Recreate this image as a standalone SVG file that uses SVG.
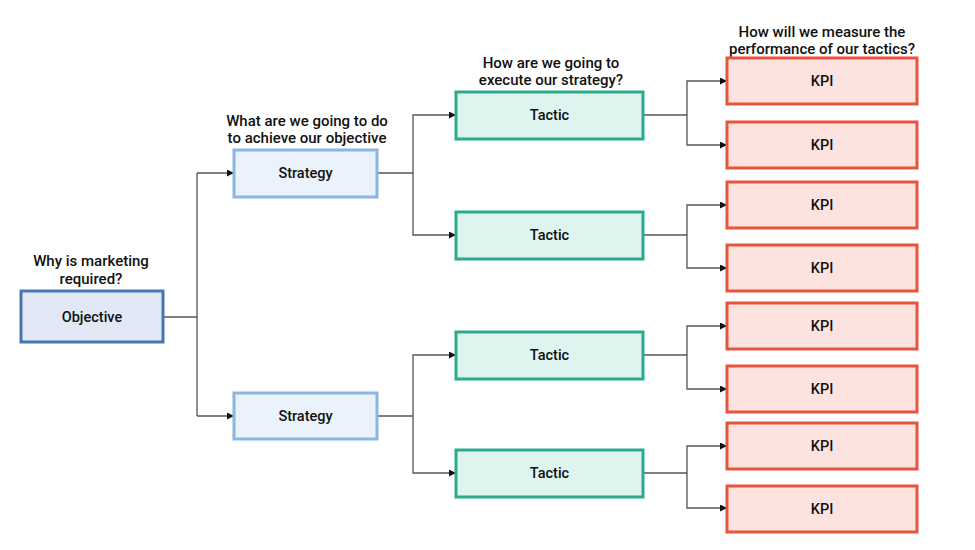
<svg xmlns="http://www.w3.org/2000/svg" width="975" height="550" viewBox="0 0 975 550">
<defs>
<marker id="arr" viewBox="0 0 10 10" refX="10" refY="5" markerWidth="7" markerHeight="7" markerUnits="userSpaceOnUse" orient="auto">
<path d="M0,0 L10,5 L0,10 z" fill="#111"/>
</marker>
<style>
text{font-family:Roboto,"Liberation Sans",Arial,sans-serif;fill:#111;text-anchor:middle}
.lbl{font-size:15px;font-weight:500}
.bt{font-size:14.5px;font-weight:500}
.obj{fill:#e2e8f6;stroke:#4a76b0;stroke-width:3}
.str{fill:#eaf2fb;stroke:#8db4e2;stroke-width:3}
.tac{fill:#def4ee;stroke:#2bab8e;stroke-width:3}
.kpi{fill:#fde3e0;stroke:#e8553d;stroke-width:3}
.c{fill:none;stroke:#555;stroke-width:1.3}
.a{fill:none;stroke:#555;stroke-width:1.3;marker-end:url(#arr)}
</style>
</defs>
<rect width="975" height="550" fill="#fff"/>
<g id="labels">
<text class="lbl" x="91" y="266">Why is marketing</text>
<text class="lbl" x="91" y="284">required?</text>
<text class="lbl" x="307" y="126">What are we going to do</text>
<text class="lbl" x="307" y="143">to achieve our objective</text>
<text class="lbl" x="551" y="68">How are we going to</text>
<text class="lbl" x="551" y="85">execute our strategy?</text>
<text class="lbl" x="822" y="37">How will we measure the</text>
<text class="lbl" x="822" y="54">performance of our tactics?</text>
</g>
<g id="connectors">
<path class="c" d="M163,317 H197 V173"/>
<path class="a" d="M197,173 H234"/>
<path class="c" d="M197,317 V416"/>
<path class="a" d="M197,416 H234"/>
<path class="c" d="M377,173 H413"/>
<path class="a" d="M413,173 V115 H456"/>
<path class="a" d="M413,173 V235 H456"/>
<path class="c" d="M377,416 H413"/>
<path class="a" d="M413,416 V355 H456"/>
<path class="a" d="M413,416 V473 H456"/>
<path class="c" d="M643,115 H687"/>
<path class="a" d="M687,115 V81 H727"/>
<path class="a" d="M687,115 V145 H727"/>
<path class="c" d="M643,235 H687"/>
<path class="a" d="M687,235 V205 H727"/>
<path class="a" d="M687,235 V268 H727"/>
<path class="c" d="M643,355 H687"/>
<path class="a" d="M687,355 V326 H727"/>
<path class="a" d="M687,355 V389 H727"/>
<path class="c" d="M643,473 H687"/>
<path class="a" d="M687,473 V446 H727"/>
<path class="a" d="M687,473 V508 H727"/>
</g>
<g id="objective"><rect class="obj" x="21" y="291" width="142" height="51"/><text class="bt" x="92" y="322">Objective</text></g>
<g id="strategy1"><rect class="str" x="234" y="150" width="143" height="47"/><text class="bt" x="305.5" y="178">Strategy</text></g>
<g id="strategy2"><rect class="str" x="234" y="393" width="143" height="46"/><text class="bt" x="305.5" y="421">Strategy</text></g>
<g id="tactic1"><rect class="tac" x="456" y="92" width="187" height="47"/><text class="bt" x="549.5" y="120">Tactic</text></g>
<g id="tactic2"><rect class="tac" x="456" y="212" width="187" height="47"/><text class="bt" x="549.5" y="240">Tactic</text></g>
<g id="tactic3"><rect class="tac" x="456" y="332" width="187" height="47"/><text class="bt" x="549.5" y="360">Tactic</text></g>
<g id="tactic4"><rect class="tac" x="456" y="450" width="187" height="47"/><text class="bt" x="549.5" y="478">Tactic</text></g>
<g id="kpi1"><rect class="kpi" x="727" y="58" width="190" height="46"/><text class="bt" x="822" y="86">KPI</text></g>
<g id="kpi2"><rect class="kpi" x="727" y="122" width="190" height="46"/><text class="bt" x="822" y="150">KPI</text></g>
<g id="kpi3"><rect class="kpi" x="727" y="182" width="190" height="46"/><text class="bt" x="822" y="210">KPI</text></g>
<g id="kpi4"><rect class="kpi" x="727" y="245" width="190" height="46"/><text class="bt" x="822" y="273">KPI</text></g>
<g id="kpi5"><rect class="kpi" x="727" y="303" width="190" height="46"/><text class="bt" x="822" y="331">KPI</text></g>
<g id="kpi6"><rect class="kpi" x="727" y="366" width="190" height="46"/><text class="bt" x="822" y="394">KPI</text></g>
<g id="kpi7"><rect class="kpi" x="727" y="423" width="190" height="46"/><text class="bt" x="822" y="451">KPI</text></g>
<g id="kpi8"><rect class="kpi" x="727" y="486" width="190" height="46"/><text class="bt" x="822" y="514">KPI</text></g>
</svg>
